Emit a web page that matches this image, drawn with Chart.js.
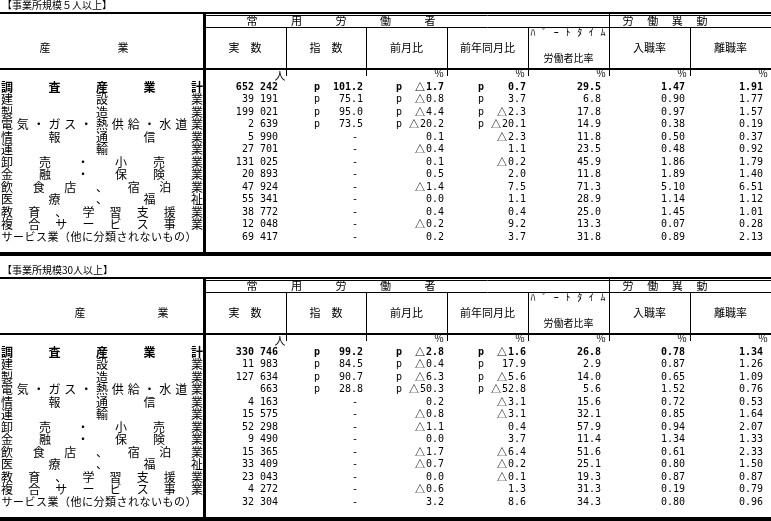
<!DOCTYPE html>
<html><head><meta charset="utf-8">
<script src="https://cdn.jsdelivr.net/npm/chart.js@4.4.1/dist/chart.umd.min.js"></script>
<style>html,body{margin:0;padding:0;background:#fff;}canvas{display:block;}</style>
</head><body>
<canvas id="t5" width="771" height="265"></canvas>
<canvas id="t30" width="771" height="256"></canvas>
<script>
// ---------- data ----------
const industries = ['調査産業計','建設業','製造業','電気・ガス・熱供給・水道業','情報通信業','運輸業','卸売・小売業','金融・保険業','飲食店、宿泊業','医療、福祉','教育、学習支援業','複合サービス事業','サービス業（他に分類されないもの）'];
const titles = ['【事業所規模５人以上】','【事業所規模30人以上】'];
const groupHeaders = ['常用労働者','労働異動'];
const columnHeaders = ['実　数','指　数','前月比','前年同月比','労働者比率','入職率','離職率'];
const partTimeCaption = 'ﾊﾟｰﾄﾀｲﾑ';
const unitLabels = ['人','','％','％','％','％','％'];
const stubHeader = ['産','業'];
const preliminaryRows = 4;

const employees5 = [652242,39191,199021,2639,5990,27701,131025,20893,47924,55341,38772,12048,69417];
const index5     = [101.2,75.1,95.0,73.5,null,null,null,null,null,null,null,null,null];
const mom5       = [-1.7,-0.8,-4.4,-20.2,0.1,-0.4,0.1,0.5,-1.4,0.0,0.4,-0.2,0.2];
const yoy5       = [0.7,3.7,-2.3,-20.1,-2.3,1.1,-0.2,2.0,7.5,1.1,0.4,9.2,3.7];
const partRatio5 = [29.5,6.8,17.8,14.9,11.8,23.5,45.9,11.8,71.3,28.9,25.0,13.3,31.8];
const hireRate5  = [1.47,0.90,0.97,0.38,0.50,0.48,1.86,1.89,5.10,1.14,1.45,0.07,0.89];
const sepRate5   = [1.91,1.77,1.57,0.19,0.37,0.92,1.79,1.40,6.51,1.12,1.01,0.28,2.13];

const employees30 = [330746,11983,127634,663,4163,15575,52298,9490,15365,33409,23043,4272,32304];
const index30     = [99.2,84.5,90.7,28.8,null,null,null,null,null,null,null,null,null];
const mom30       = [-2.8,-0.4,-6.3,-50.3,0.2,-0.8,-1.1,0.0,-1.7,-0.7,0.0,-0.6,3.2];
const yoy30       = [-1.6,17.9,-5.6,-52.8,-3.1,-3.1,0.4,3.7,-6.4,-0.2,-0.1,1.3,8.6];
const partRatio30 = [26.8,2.9,14.0,5.6,15.6,32.1,57.9,11.4,51.6,25.1,19.3,31.3,34.3];
const hireRate30  = [0.78,0.87,0.65,1.52,0.72,0.85,0.94,1.34,0.61,0.80,0.87,0.19,0.80];
const sepRate30   = [1.34,1.26,1.09,0.76,0.53,1.64,2.07,1.33,2.33,1.50,0.87,0.79,0.96];

// ---------- layout / style ----------
const JP = "'Noto Sans CJK JP'";
const MONO = "'DejaVu Sans Mono'";
const colEdges = [204,286,366,447,528,609,690,771];
const L = {titleX:2,titleY:5,ruleY:13,rule2Y:15.5,groupY:21,groupRuleY:27.5,headY:48,headRuleY:69,
  unitY:74,tickEnd:76,rowY0:87,rowPitch:12.5,bottomY:254,labelX0:7,labelX1:197};

const tables = new Map();
tables.set('t5',  {title:titles[0], stubX:[45,123], emp:employees5, idx:index5, mom:mom5, yoy:yoy5, part:partRatio5, hire:hireRate5, sep:sepRate5});
tables.set('t30', {title:titles[1], stubX:[80,163], emp:employees30, idx:index30, mom:mom30, yoy:yoy30, part:partRatio30, hire:hireRate30, sep:sepRate30});

const fmtCount = n => String(n).replace(/\B(?=(\d{3})+(?!\d))/g,' ');

const tablePlugin = {
  id:'statTable',
  afterDraw(chart){
    const t = tables.get(chart.canvas.id);
    if(!t) return;
    const ctx = chart.ctx, xs = chart.scales.x, ys = chart.scales.y;
    const X = v => xs.getPixelForValue(v), Y = v => ys.getPixelForValue(v);
    ctx.save();
    ctx.fillStyle = '#000'; ctx.strokeStyle = '#000';
    const hl = (x0,x1,y,w)=>{ctx.lineWidth=w;ctx.beginPath();ctx.moveTo(X(x0),Y(y));ctx.lineTo(X(x1),Y(y));ctx.stroke();};
    const vl = (x,y0,y1,w)=>{ctx.lineWidth=w;ctx.beginPath();ctx.moveTo(X(x),Y(y0));ctx.lineTo(X(x),Y(y1));ctx.stroke();};
    const txt = (s,x,y,font,align)=>{ctx.font=font;ctx.textAlign=align||'center';ctx.textBaseline='middle';ctx.fillText(s,X(x),Y(y));};
    const spread = (s,x0,x1,y,font)=>{const ch=Array.from(s);ch.forEach((c,i)=>txt(c,ch.length>1?x0+(x1-x0)*i/(ch.length-1):(x0+x1)/2,y,font));};
    const num = (v,d,xr,y,bold)=>{
      const s = Math.abs(v).toFixed(d);
      ctx.font=(bold?'bold ':'')+'10px '+MONO; ctx.textAlign='right'; ctx.textBaseline='middle';
      ctx.fillText(s,X(xr),Y(y));
      if(v<0){const w=ctx.measureText(s).width; ctx.font=(bold?'bold ':'')+'10px '+JP; ctx.fillText('△',X(xr)-w-1,Y(y));}
    };

    // title
    txt(t.title, L.titleX, L.titleY, '10px '+JP, 'left');
    // rules
    hl(0,771,L.ruleY,2);
    hl(colEdges[0],771,L.rule2Y,1);
    hl(colEdges[0],771,L.groupRuleY,1);
    hl(0,771,L.headRuleY,2);
    hl(0,771,L.bottomY,4);
    vl(colEdges[0]+0.5,L.ruleY,L.bottomY,3);
    vl(colEdges[5]+0.5,L.ruleY,L.tickEnd,1);
    [1,2,3,4,6].forEach(k=>vl(colEdges[k]+0.5,L.groupRuleY,L.tickEnd,1));

    // headers
    spread(groupHeaders[0],252,430,L.groupY,'11px '+JP);
    spread(groupHeaders[1],628,702,L.groupY,'11px '+JP);
    txt(stubHeader[0],t.stubX[0],L.headY,'11px '+JP);
    txt(stubHeader[1],t.stubX[1],L.headY,'11px '+JP);
    columnHeaders.forEach((h,k)=>{
      const cx=(colEdges[k]+colEdges[k+1])/2;
      if(k===4){ txt(h,cx,58,'10px '+JP); spread(partTimeCaption,533,603,32,'10px '+JP); }
      else txt(h,cx,L.headY,'11px '+JP);
    });
    unitLabels.forEach((u,k)=>{
      if(!u) return;
      if(u==='人') txt(u,colEdges[k+1]-6,L.unitY+2,'11px '+JP);
      else txt(u,colEdges[k+1]-3,L.unitY-1,'10px '+JP,'right');
    });

    // rows
    const rx = {emp:278, pIdx:317, idx:363, dash:355, pMom:399, mom:444, pYoy:481, yoy:526, part:601, hire:685, sep:763};
    industries.forEach((name,i)=>{
      const y = L.rowY0 + i*L.rowPitch;
      const bold = i===0;
      const fb = bold?'bold ':'';
      const last = i===industries.length-1;
      spread(name,L.labelX0,last?191:L.labelX1,y,fb+(last?'11px ':'12px ')+JP);
      ctx.font=fb+'10px '+MONO; ctx.textAlign='right'; ctx.textBaseline='middle';
      ctx.fillText(fmtCount(t.emp[i]),X(rx.emp),Y(y));
      const prelim = i<preliminaryRows;
      if(t.idx[i]!==null){ num(t.idx[i],1,rx.idx,y,bold); }
      else txt('-',rx.dash,y,'10px '+MONO);
      if(prelim){
        txt('p',rx.pIdx,y,fb+'10px '+MONO);
        txt('p',rx.pMom,y,fb+'10px '+MONO);
        txt('p',rx.pYoy,y,fb+'10px '+MONO);
      }
      num(t.mom[i],1,rx.mom,y,bold);
      num(t.yoy[i],1,rx.yoy,y,bold);
      num(t.part[i],1,rx.part,y,bold);
      num(t.hire[i],2,rx.hire,y,bold);
      num(t.sep[i],2,rx.sep,y,bold);
    });
    ctx.restore();
  }
};

function makeTable(id){
  const cv = document.getElementById(id);
  return new Chart(cv,{
    type:'scatter',
    data:{datasets:[{data:[],pointRadius:0}]},
    options:{
      responsive:false, animation:false, events:[],
      layout:{padding:0},
      plugins:{legend:{display:false},tooltip:{enabled:false}},
      scales:{
        x:{type:'linear',min:0,max:771,display:false},
        y:{type:'linear',min:0,max:cv.height,reverse:true,display:false}
      }
    },
    plugins:[tablePlugin]
  });
}
makeTable('t5');
makeTable('t30');
</script>
</body></html>
